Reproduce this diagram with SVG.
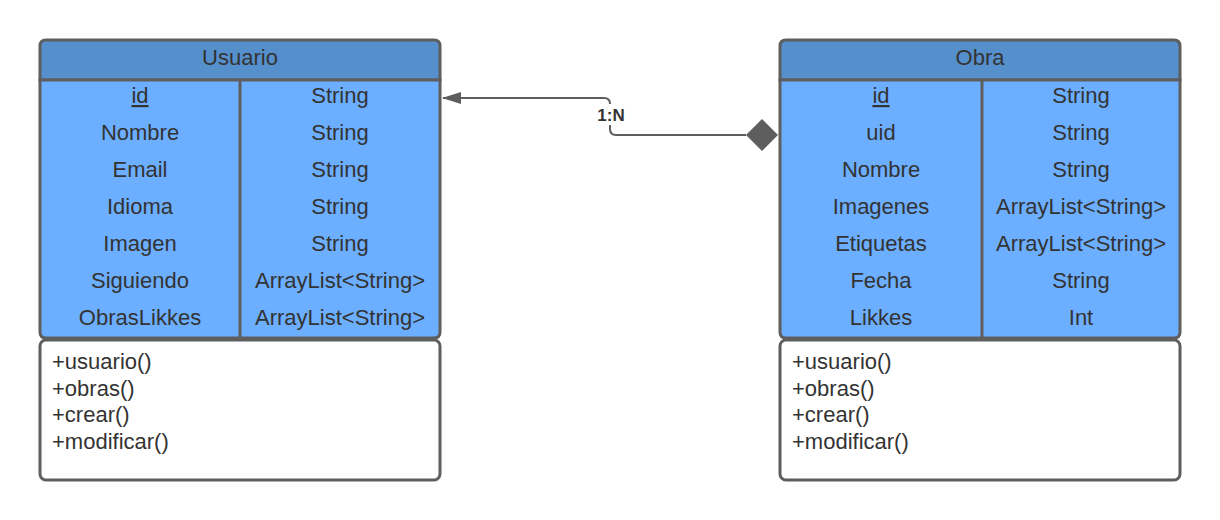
<svg xmlns="http://www.w3.org/2000/svg" width="1220" height="520" viewBox="0 0 1220 520">
<defs>
<style>
.box{stroke:#5e5e5e;stroke-width:3}
.hdr{fill:#558fcc}
.attr{fill:#6caeff}
.meth{fill:#ffffff}
.t{font-family:"Liberation Sans",Arial,sans-serif;font-size:22px;fill:#333333;text-anchor:middle}
.m{font-family:"Liberation Sans",Arial,sans-serif;font-size:22px;fill:#333333}
.lbl{font-family:"Liberation Sans",Arial,sans-serif;font-size:17px;font-weight:bold;fill:#333333;text-anchor:middle}
.u{text-decoration:underline}
.line{fill:none;stroke:#5e5e5e;stroke-width:2}
</style>
<marker id="arrow" markerWidth="20" markerHeight="14" refX="18" refY="7" orient="auto" markerUnits="userSpaceOnUse">
<path d="M0,1 L19,7 L0,13 Z" fill="#5e5e5e"/>
</marker>
</defs>
<g id="connectors">
<path class="line" d="M746,135 H616 Q610,135 610,129 V104 Q610,98 604,98 H443" marker-end="url(#arrow)"/>
<path d="M746,135 L762,119 L778,135 L762,151 Z" fill="#5e5e5e"/>
<rect x="592" y="104" width="36" height="21" fill="#ffffff"/>
<text class="lbl" x="611" y="120.5">1:N</text>
</g>
<g id="usuario">
<path class="box hdr" d="M40,80 V46 Q40,40 46,40 H434 Q440,40 440,46 V80 Z"/>
<path class="box attr" d="M40,80 H440 V332 Q440,338 434,338 H46 Q40,338 40,332 Z"/>
<line class="box" x1="240" y1="80" x2="240" y2="338"/>
<rect class="box meth" x="40" y="340" width="400" height="140" rx="6"/>
<text class="t" x="240" y="64.5">Usuario</text>
<text class="t u" x="140" y="103">id</text>
<text class="t" x="140" y="140">Nombre</text>
<text class="t" x="140" y="177">Email</text>
<text class="t" x="140" y="214">Idioma</text>
<text class="t" x="140" y="251">Imagen</text>
<text class="t" x="140" y="288">Siguiendo</text>
<text class="t" x="140" y="325">ObrasLikkes</text>
<text class="t" x="340" y="103">String</text>
<text class="t" x="340" y="140">String</text>
<text class="t" x="340" y="177">String</text>
<text class="t" x="340" y="214">String</text>
<text class="t" x="340" y="251">String</text>
<text class="t" x="340" y="288">ArrayList&lt;String&gt;</text>
<text class="t" x="340" y="325">ArrayList&lt;String&gt;</text>
<text class="m" x="52" y="369">+usuario()</text>
<text class="m" x="52" y="396">+obras()</text>
<text class="m" x="52" y="422">+crear()</text>
<text class="m" x="52" y="449">+modificar()</text>
</g>
<g id="obra">
<path class="box hdr" d="M780,80 V46 Q780,40 786,40 H1174 Q1180,40 1180,46 V80 Z"/>
<path class="box attr" d="M780,80 H1180 V332 Q1180,338 1174,338 H786 Q780,338 780,332 Z"/>
<line class="box" x1="982" y1="80" x2="982" y2="338"/>
<rect class="box meth" x="780" y="340" width="400" height="140" rx="6"/>
<text class="t" x="980" y="64.5">Obra</text>
<text class="t u" x="881" y="103">id</text>
<text class="t" x="881" y="140">uid</text>
<text class="t" x="881" y="177">Nombre</text>
<text class="t" x="881" y="214">Imagenes</text>
<text class="t" x="881" y="251">Etiquetas</text>
<text class="t" x="881" y="288">Fecha</text>
<text class="t" x="881" y="325">Likkes</text>
<text class="t" x="1081" y="103">String</text>
<text class="t" x="1081" y="140">String</text>
<text class="t" x="1081" y="177">String</text>
<text class="t" x="1081" y="214">ArrayList&lt;String&gt;</text>
<text class="t" x="1081" y="251">ArrayList&lt;String&gt;</text>
<text class="t" x="1081" y="288">String</text>
<text class="t" x="1081" y="325">Int</text>
<text class="m" x="792" y="369">+usuario()</text>
<text class="m" x="792" y="396">+obras()</text>
<text class="m" x="792" y="422">+crear()</text>
<text class="m" x="792" y="449">+modificar()</text>
</g>
</svg>
